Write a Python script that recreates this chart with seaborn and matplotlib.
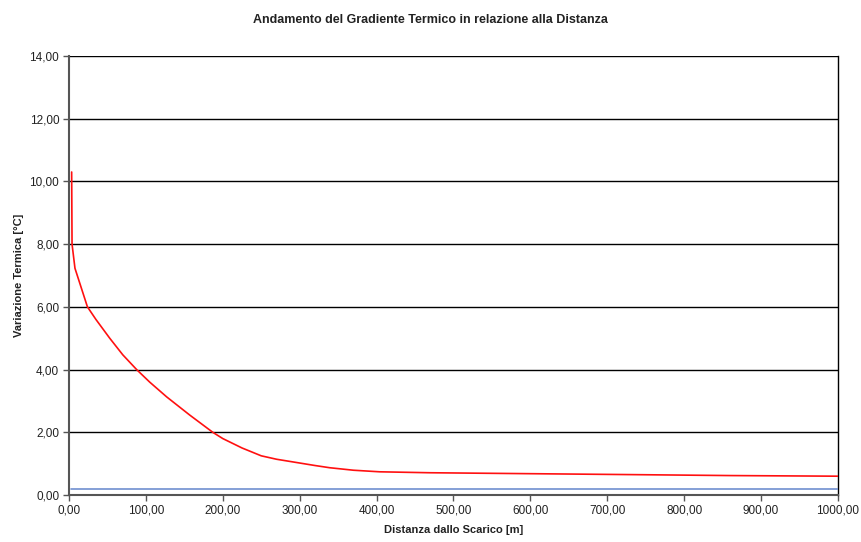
import numpy as np
import pandas as pd
import matplotlib
matplotlib.use("Agg")
import matplotlib.pyplot as plt
import matplotlib.ticker as mticker
import seaborn as sns

# distances [m] and temperature variation [°C]
distanza = [3.5, 4.0, 7.8, 24, 35, 53, 70, 88, 105, 127, 157, 187, 200, 225,
            250, 270, 300, 320, 339, 370, 404, 469, 600, 733, 860, 1000]
variazione = [10.3, 8.0, 7.23, 6.0, 5.6, 5.0, 4.47, 4.0, 3.6, 3.13, 2.55, 2.0,
              1.8, 1.5, 1.25, 1.14, 1.02, 0.94, 0.87, 0.79, 0.74, 0.71, 0.68, 0.65, 0.62, 0.60]
# reference limit line
limite_x = [3.0, 1000]
limite_y = [0.19, 0.19]

sns.set_style("white")
plt.rcParams['font.family'] = ['Liberation Sans', 'DejaVu Sans']
plt.rcParams['text.color'] = '#222222'
plt.rcParams['axes.labelcolor'] = '#222222'

df = pd.DataFrame({'distanza': distanza, 'variazione': variazione})
df_lim = pd.DataFrame({'distanza': limite_x, 'variazione': limite_y})

fig = plt.figure(figsize=(8.61, 5.42), dpi=100)
ax = fig.add_axes([0.0801, 0.0867, 0.8932, 0.81])

for y in range(2, 15, 2):
    ax.axhline(y, color='black', lw=1.0, zorder=1)

sns.lineplot(data=df_lim, x='distanza', y='variazione', color='#6f8fcf', lw=1.2, ax=ax, sort=False, zorder=3)
sns.lineplot(data=df, x='distanza', y='variazione', color='#ff1010', lw=1.2, ax=ax, sort=False, zorder=4)

ax.set_xlim(0, 1000)
ax.set_ylim(0, 14)
ax.set_xticks(np.arange(0, 1001, 100))
ax.set_yticks(np.arange(0, 15, 2))
fmt = mticker.FuncFormatter(lambda v, p: f"{v:.2f}".replace('.', ','))
ax.xaxis.set_major_formatter(fmt)
ax.yaxis.set_major_formatter(fmt)
ax.tick_params(axis='both', direction='out', length=4, width=1, color='#555555', labelcolor='#222222',
               labelsize=8.5, pad=3, left=True, bottom=True)

for s in ['left', 'bottom']:
    ax.spines[s].set_color('#555555')
    ax.spines[s].set_linewidth(1.5)
ax.spines['right'].set_color('black')
ax.spines['right'].set_linewidth(1.0)
ax.spines['top'].set_visible(False)

ax.set_xlabel('Distanza dallo Scarico [m]', fontsize=8, fontweight='bold', labelpad=6)
ax.set_ylabel('Variazione Termica [°C]', fontsize=8, fontweight='bold', labelpad=4)
fig.suptitle('Andamento del Gradiente Termico in relazione alla Distanza', fontsize=9, fontweight='bold', y=0.975)

fig.savefig('out.png', dpi=100)
